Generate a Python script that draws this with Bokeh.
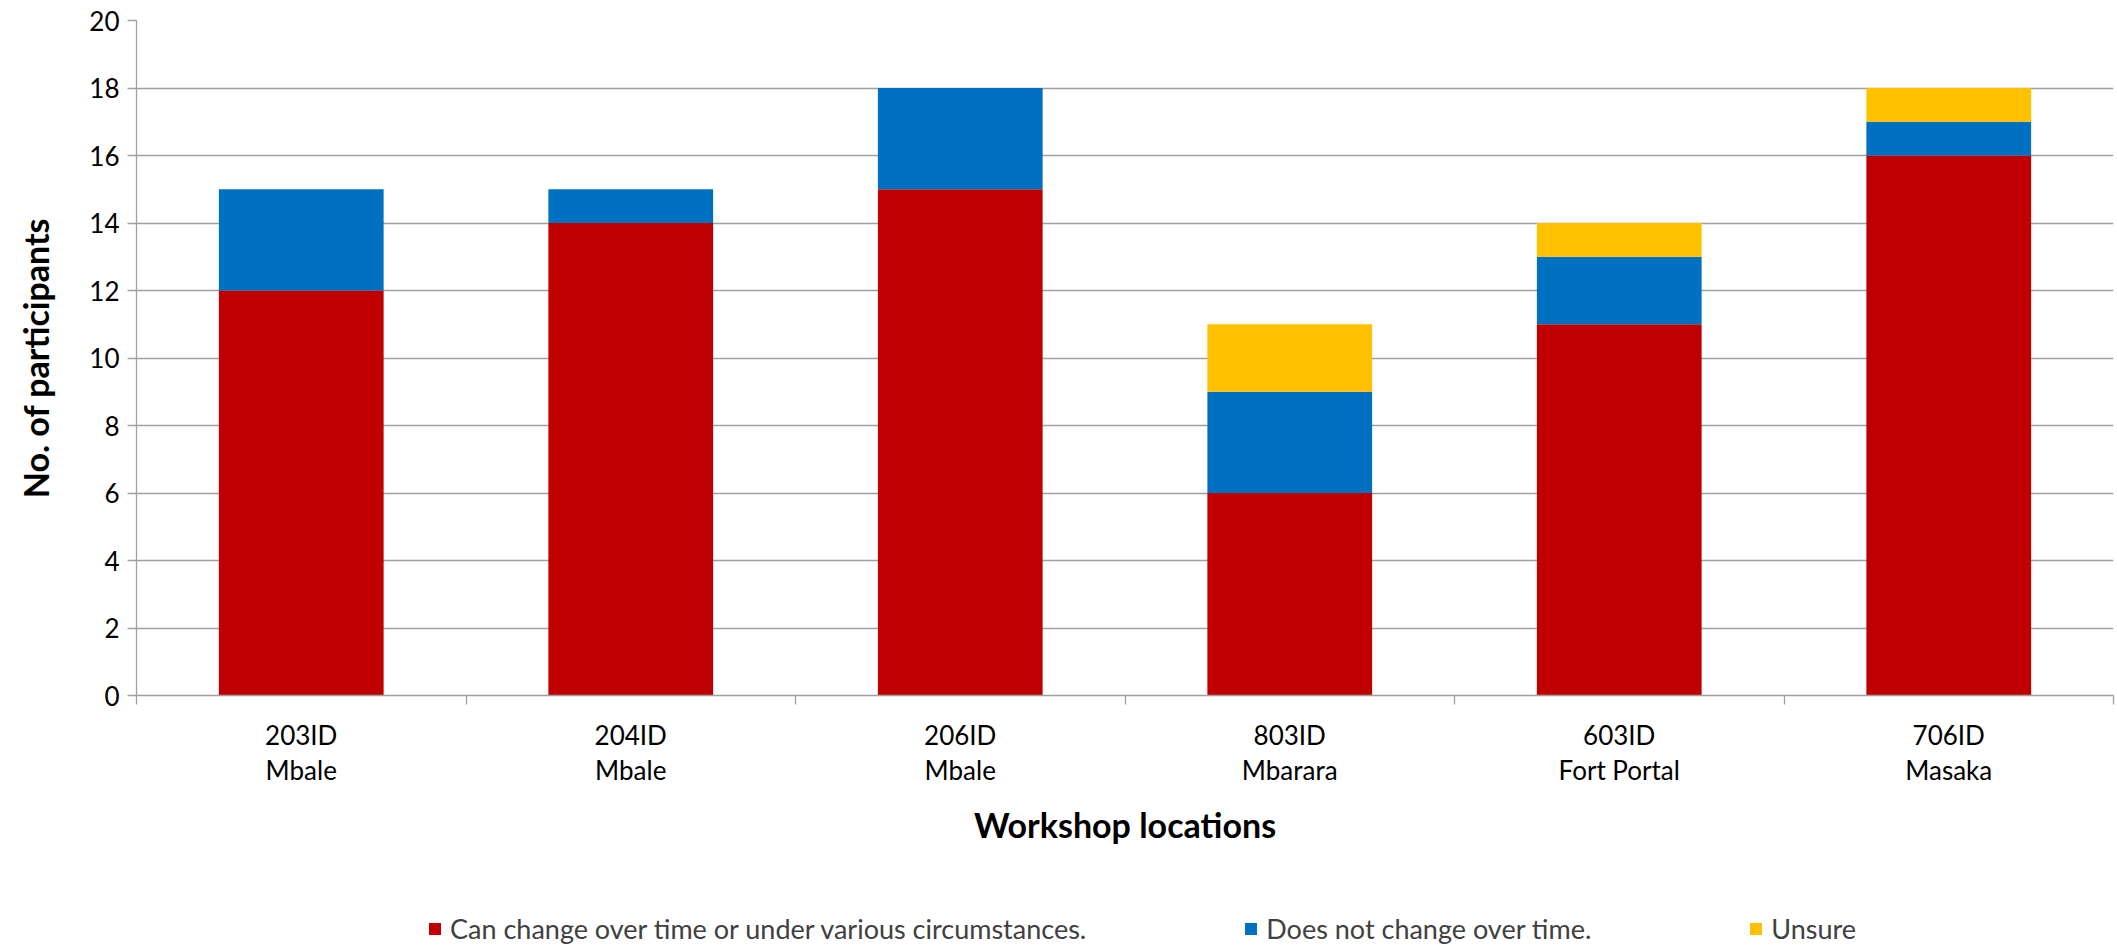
from bokeh.plotting import figure
from bokeh.models import Range1d, FixedTicker, Legend, LegendItem, ColumnDataSource
from bokeh.layouts import column
from bokeh.embed import file_html
from bokeh.resources import INLINE

# ---- data ----
sites = ["203ID", "204ID", "206ID", "803ID", "603ID", "706ID"]
towns = ["Mbale", "Mbale", "Mbale", "Mbarara", "Fort Portal", "Masaka"]
can_change = [12, 14, 15, 6, 11, 16]
no_change = [3, 1, 3, 3, 2, 1]
unsure = [0, 0, 0, 2, 1, 1]
series_names = ["Can change over time or under various circumstances.",
                "Does not change over time.",
                "Unsure"]
colors = ["#C00000", "#0070C0", "#FFC000"]
y_ticks = list(range(0, 21, 2))

FONT = "Lato"

xs = [i + 0.5 for i in range(len(sites))]
src = ColumnDataSource(dict(x=xs, a=can_change, b=no_change, c=unsure))

p = figure(width=2117, height=895, output_backend="svg", toolbar_location=None,
           x_range=Range1d(0, len(sites)), y_range=Range1d(0, 20),
           min_border_left=136, min_border_top=20, min_border_right=4,
           min_border_bottom=200)

p.vbar_stack(["a", "b", "c"], x="x", width=0.5, color=colors,
             source=src, line_color=None)

p.outline_line_color = None
p.background_fill_color = "white"
p.border_fill_color = "white"
p.xgrid.visible = False
p.ygrid.grid_line_color = "#A0A0A0"
p.ygrid.grid_line_width = 1.3
p.ygrid.ticker = FixedTicker(ticks=y_ticks)

# y axis
ya = p.yaxis[0]
ya.ticker = FixedTicker(ticks=y_ticks)
ya.axis_line_color = "#A0A0A0"
ya.axis_line_width = 1.3
ya.major_tick_line_color = "#A0A0A0"
ya.major_tick_line_width = 1.3
ya.major_tick_out = 9
ya.major_tick_in = 0
ya.minor_tick_line_color = None
ya.major_label_standoff = 8
ya.major_label_text_font = FONT
ya.major_label_text_font_size = "26px"
ya.major_label_text_color = "#000000"
ya.axis_label = "No. of participants"
ya.axis_label_text_font = FONT
ya.axis_label_text_font_size = "34px"
ya.axis_label_text_font_style = "bold"
ya.axis_label_text_color = "#000000"
ya.axis_label_standoff = 30

# x axis
xa = p.xaxis[0]
xa.ticker = FixedTicker(ticks=xs, minor_ticks=list(range(len(sites) + 1)))
xa.major_label_overrides = {x: f"{s}\n{t}" for x, s, t in zip(xs, sites, towns)}
xa.axis_line_color = "#A0A0A0"
xa.axis_line_width = 1.3
xa.major_tick_line_color = None
xa.major_tick_out = 9
xa.major_tick_in = 0
xa.minor_tick_line_color = "#A0A0A0"
xa.minor_tick_line_width = 1.3
xa.minor_tick_out = 9
xa.minor_tick_in = 0
xa.major_label_standoff = 14
xa.major_label_text_font = FONT
xa.major_label_text_font_size = "26px"
xa.major_label_text_color = "#000000"
xa.major_label_text_line_height = 1.1
xa.axis_label = "Workshop locations"
xa.axis_label_text_font = FONT
xa.axis_label_text_font_size = "34px"
xa.axis_label_text_font_style = "bold"
xa.axis_label_text_color = "#000000"
xa.axis_label_standoff = 15

# ---- legend strip (same series, bars hidden; only the legend is shown) ----
q = figure(width=2117, height=50, output_backend="svg", toolbar_location=None,
           min_border=0, x_axis_type=None, y_axis_type=None)
q.outline_line_color = None
q.xgrid.visible = False
q.ygrid.visible = False
q.background_fill_color = "white"
q.border_fill_color = "white"
hidden = q.vbar_stack(["a", "b", "c"], x="x", width=0.5, color=colors,
                      source=src, line_color=None)
for r in hidden:
    r.visible = False

legend = Legend(items=[LegendItem(label=n, renderers=[r]) for n, r in zip(series_names, hidden)],
                orientation="horizontal", location=(291, 0))
legend.border_line_color = None
legend.background_fill_alpha = 0
legend.padding = 0
legend.margin = 0
legend.spacing = 157
legend.glyph_width = 15
legend.glyph_height = 15
legend.label_standoff = 8
legend.label_text_font = FONT
legend.label_text_font_size = "27px"
legend.label_text_color = "#404040"
legend.label_height = 28
q.add_layout(legend, "center")

open("out.html", "w").write(file_html(column(p, q, spacing=0), INLINE))
